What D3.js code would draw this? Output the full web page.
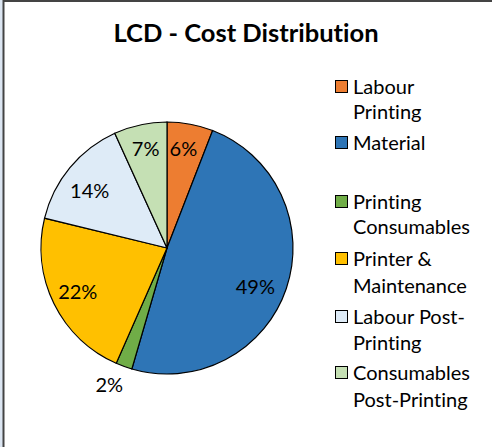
<!DOCTYPE html>
<html><head><meta charset="utf-8">
<script src="https://cdn.jsdelivr.net/npm/d3@7"></script>
<style>html,body{margin:0;padding:0;background:#fff;}svg{display:block;}text{font-variant-ligatures:none;font-feature-settings:"liga" 0,"clig" 0;}</style>
</head><body>
<script>
const categories = ["Labour Printing","Material","Printing Consumables","Printer & Maintenance","Labour Post-Printing","Consumables Post-Printing"];
const legendLines = [["Labour","Printing"],["Material"],["Printing","Consumables"],["Printer &","Maintenance"],["Labour Post-","Printing"],["Consumables","Post-Printing"]];
const values = [5.9, 48.6, 2.1, 22.2, 14.4, 6.8];
const colors = ["#ED7D31","#2E75B6","#70AD47","#FFC000","#DEEBF7","#C5E0B4"];
const W = 492, H = 447;
const svg = d3.select("body").append("svg").attr("width", W).attr("height", H);
svg.append("rect").attr("width", W).attr("height", H).attr("fill", "#fff");
svg.append("rect").attr("x",0).attr("y",0).attr("width",3).attr("height",H).attr("fill","#dce6f2");
svg.append("line").attr("x1",3.5).attr("x2",3.5).attr("y1",0).attr("y2",H).attr("stroke","#444").attr("stroke-width",2);
svg.append("line").attr("x1",3).attr("x2",W).attr("y1",1).attr("y2",1).attr("stroke","#444").attr("stroke-width",2);

const font = "Lato, 'Open Sans', sans-serif";
svg.append("text").attr("x", 246).attr("y", 42).attr("text-anchor","middle")
  .attr("font-family", font).attr("font-weight","bold").attr("font-size", 25.5).attr("fill","#000")
  .text("LCD - Cost Distribution");

const cx = 167, cy = 248, r = 126;
const pie = d3.pie().sort(null).value(d => d);
const arcs = pie(values);
const arc = d3.arc().innerRadius(0).outerRadius(r);
const g = svg.append("g").attr("transform", `translate(${cx},${cy})`);
g.selectAll("path").data(arcs).join("path").attr("d", arc)
  .attr("fill", (d,i) => colors[i]).attr("stroke", "#000").attr("stroke-width", 1.2);

const labelR = [0.79, 0.74, 1.18, 0.79, 0.755, 0.80];
const labelOff = [[-2,-1],[0,9],[-7,-3],[0,0],[-4,4],[0,0]];
g.selectAll("text.lbl").data(arcs).join("text").attr("class","lbl")
  .attr("transform", (d,i) => {
    const a = (d.startAngle + d.endAngle) / 2;
    const rr = r * labelR[i];
    return `translate(${Math.sin(a)*rr + labelOff[i][0]},${-Math.cos(a)*rr + labelOff[i][1]})`;
  })
  .attr("text-anchor","middle").attr("dy","0.35em")
  .attr("font-family", font).attr("font-size", 20).attr("fill","#000")
  .text(d => Math.round(d.value) + "%");

const rowY = [[87,112],[143],[202,227],[259,286],[317,343],[373,400]];
const lg = svg.append("g");
legendLines.forEach((lines, i) => {
  lg.append("rect").attr("x", 335.5).attr("y", rowY[i][0] - 6.5).attr("width", 12).attr("height", 12)
    .attr("fill", colors[i]).attr("stroke", "#000").attr("stroke-width", 1);
  lines.forEach((t, j) => {
    lg.append("text").attr("x", 353).attr("y", rowY[i][j]).attr("dy","0.35em")
      .attr("font-family", font).attr("font-size", 20).attr("fill","#000").text(t);
  });
});
</script>
</body></html>
